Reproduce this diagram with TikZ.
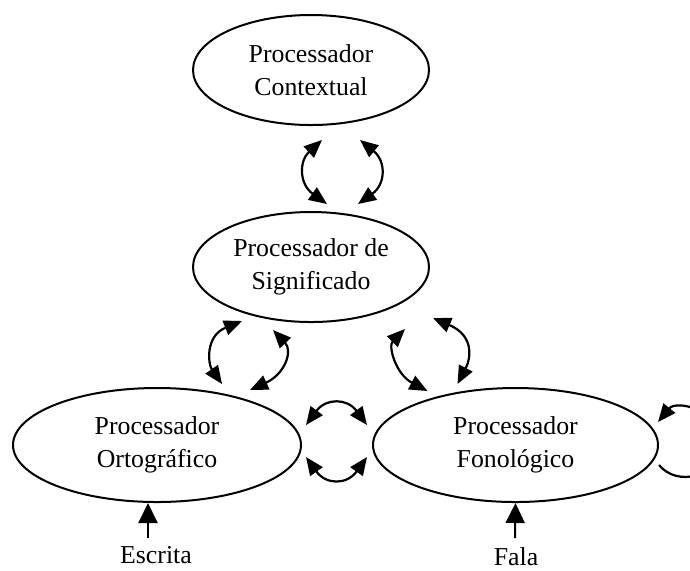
\documentclass[tikz,border=0pt]{standalone}
\usepackage{fontspec}
\setmainfont{Liberation Serif}
\usetikzlibrary{shapes.geometric,arrows.meta,calc}

\tikzset{
  proc/.style={draw, ellipse, line width=1pt, inner sep=0pt, align=center,
    font=\fontsize{12.9}{16.5}\selectfont},
  biarrow/.style={line width=1.1pt,
    {Triangle[length=9pt,width=7.5pt]}-{Triangle[length=9pt,width=7.5pt]}},
  onearrow/.style={line width=1.1pt, -{Triangle[length=9pt,width=7.5pt]}},
  inarrow/.style={line width=1pt, -{Triangle[length=10pt,width=9.5pt]}},
  lbl/.style={inner sep=0pt, font=\fontsize{12.9}{15}\selectfont}
}

\begin{document}
\begin{tikzpicture}[x=0.5pt, y=-0.5pt]
  \useasboundingbox (0,0) rectangle (690,570);

  % processors
  \node[proc, minimum width=118pt, minimum height=55pt] (T) at (311,70)
    {Processador\\Contextual};
  \node[proc, minimum width=118pt, minimum height=55pt] (M) at (311,267)
    {Processador de\\Significado};
  \node[proc, minimum width=144pt, minimum height=57pt] (L) at (157,445)
    {Processador\\Ortográfico};
  \node[proc, minimum width=142.5pt, minimum height=57pt] (R) at (515.5,445)
    {Processador\\Fonológico};

  % contextual <-> meaning
  \draw[biarrow] ($(T.south)+(11,14)$) .. controls +(-23,21) and +(-28,-20) .. ($(M.north)+(16,-7)$);
  \draw[biarrow] ($(T.south)+(49,14)$) .. controls +(26,21) and +(28,-20) .. ($(M.north)+(47,-7)$);

  % meaning <-> orthographic
  \draw[biarrow] ($(M.south)+(-69,-2)$) .. controls +(-37,15) and +(-14,-20) .. ($(L.north)+(65,-3)$);
  \draw[biarrow] ($(M.south)+(-38,7)$) .. controls +(20,21) and +(35,-16) .. ($(L.north)+(93,3)$);

  % meaning <-> phonological
  \draw[biarrow] ($(M.south)+(94,6)$) .. controls +(-17,17) and +(-32,-17) .. ($(R.north)+(-88,4)$);
  \draw[biarrow] ($(M.south)+(122,-5)$) .. controls +(42,18) and +(13,-25) .. ($(R.north)+(-58,-3)$);

  % orthographic <-> phonological
  \draw[biarrow] ($(L.east)+(4,-20)$) .. controls +(20,-27) and +(-20,-27) .. ($(R.west)+(-5,-20)$);
  \draw[biarrow] ($(L.east)+(4,12)$) .. controls +(20,28) and +(-20,28) .. ($(R.west)+(-5,12)$);

  % phonological self loop
  \draw[onearrow] ($(R.east)+(0,20)$) .. controls +(18,22) and +(0,35) .. ($(R.east)+(60,-2)$)
    .. controls +(0,-35) and +(18,-22) .. ($(R.east)+(-1,-23)$);

  % inputs
  \node[lbl, anchor=base] (escrita) at (156,563) {Escrita};
  \node[lbl, anchor=base] (fala) at (516,565) {Fala};
  \draw[inarrow] ($(escrita.base)+(-8,-25)$) -- ($(L.south)+(-9,0)$);
  \draw[inarrow] ($(fala.base)+(-1,-27)$) -- (R.south);
\end{tikzpicture}
\end{document}
